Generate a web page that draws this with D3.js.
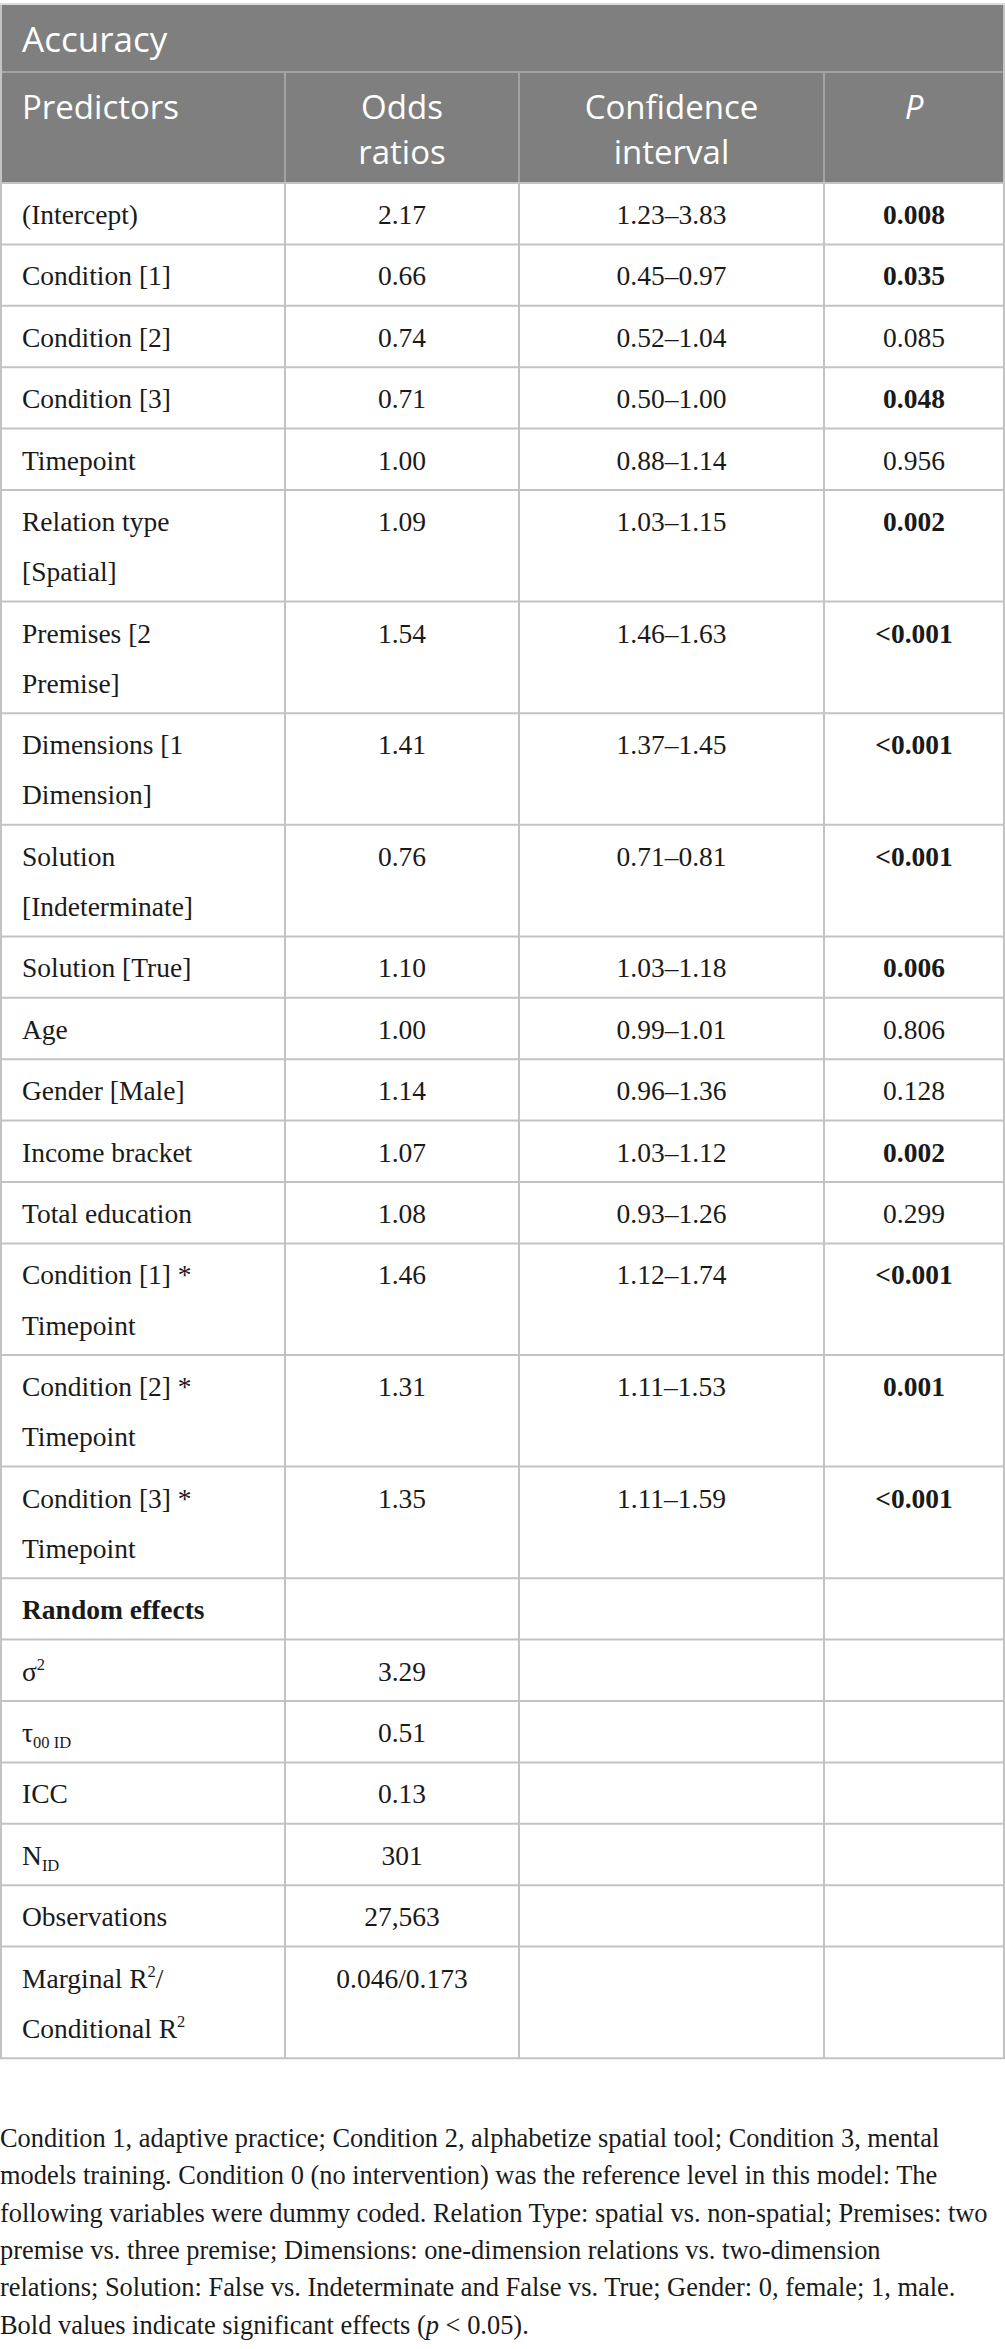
<!DOCTYPE html>
<html>
<head>
<meta charset="utf-8">
<script src="https://cdn.jsdelivr.net/npm/d3@7"></script>
<style>
  body { margin: 0; background: #fff; }
</style>
</head>
<body>
<svg id="chart"></svg>
<script>
// table content
const title = "Accuracy";
const headers = [["Predictors"], ["Odds", "ratios"], ["Confidence", "interval"], ["{/P}"]];
const predictors = [
  ["(Intercept)"], ["Condition [1]"], ["Condition [2]"], ["Condition [3]"], ["Timepoint"],
  ["Relation type", "[Spatial]"], ["Premises [2", "Premise]"], ["Dimensions [1", "Dimension]"],
  ["Solution", "[Indeterminate]"], ["Solution [True]"], ["Age"], ["Gender [Male]"],
  ["Income bracket"], ["Total education"],
  ["Condition [1] *", "Timepoint"], ["Condition [2] *", "Timepoint"], ["Condition [3] *", "Timepoint"]
];
const oddsRatios = ["2.17", "0.66", "0.74", "0.71", "1.00", "1.09", "1.54", "1.41", "0.76",
  "1.10", "1.00", "1.14", "1.07", "1.08", "1.46", "1.31", "1.35"];
const confIntervals = ["1.23–3.83", "0.45–0.97", "0.52–1.04", "0.50–1.00", "0.88–1.14",
  "1.03–1.15", "1.46–1.63", "1.37–1.45", "0.71–0.81", "1.03–1.18", "0.99–1.01",
  "0.96–1.36", "1.03–1.12", "0.93–1.26", "1.12–1.74", "1.11–1.53", "1.11–1.59"];
const pValues = ["0.008", "0.035", "0.085", "0.048", "0.956", "0.002", "<0.001", "<0.001",
  "<0.001", "0.006", "0.806", "0.128", "0.002", "0.299", "<0.001", "0.001", "<0.001"];
const randomLabels = [["Random effects"], ["σ{^2}"], ["τ{_00 ID}"], ["ICC"], ["N{_ID}"],
  ["Observations"], ["Marginal R{^2}/", "Conditional R{^2}"]];
const randomValues = ["", "3.29", "0.51", "0.13", "301", "27,563", "0.046/0.173"];
const footnote = [
  "Condition 1, adaptive practice; Condition 2, alphabetize spatial tool; Condition 3, mental",
  "models training. Condition 0 (no intervention) was the reference level in this model: The",
  "following variables were dummy coded. Relation Type: spatial vs. non-spatial; Premises: two",
  "premise vs. three premise; Dimensions: one-dimension relations vs. two-dimension",
  "relations; Solution: False vs. Indeterminate and False vs. True; Gender: 0, female; 1, male.",
  "Bold values indicate significant effects ({/p} < 0.05)."
];

const W = 1005, H = 2349;
const sans = "'Open Sans', sans-serif";
const serif = "'Liberation Serif', 'Times New Roman', serif";
const headFill = "#7e7f7e";
const gridBody = "#c3c3c3";
const gridHead = "#a2a3a2";

const colEdges = [1, 285, 519, 824, 1004];
const tableTop = 5, titleBottom = 72, headBottom = 183;
const rowBase = 61.4, lineStep = 50.2;

const svg = d3.select("#chart").attr("width", W).attr("height", H)
  .attr("viewBox", [0, 0, W, H].join(" "));

// rows assembled from the arrays
const rows = predictors.map((lab, i) => ({
  label: lab, cells: [oddsRatios[i], confIntervals[i], pValues[i]],
  bold: [false, false, parseFloat(pValues[i].replace("<", "")) < 0.05], boldLabel: false
})).concat(randomLabels.map((lab, i) => ({
  label: lab, cells: [randomValues[i], "", ""], bold: [false, false, false], boldLabel: i === 0
})));

let acc = headBottom;
rows.forEach(r => {
  r.y0 = acc;
  r.h = rowBase + (r.label.length - 1) * lineStep;
  acc += r.h;
});
const tableBottom = acc;

// markup: {^x} superscript, {_x} subscript, {/x} italic
function rich(sel, str, size) {
  const parts = str.split(/(\{[\^_\/][^}]*\})/).filter(s => s.length);
  let shift = 0;
  parts.forEach(p => {
    const m = p.match(/^\{([\^_\/])([^}]*)\}$/);
    const t = sel.append("tspan");
    if (m && m[1] !== "/") {
      const d = m[1] === "^" ? -size * 0.38 : size * 0.22;
      t.attr("dy", d - shift).attr("font-size", size * 0.6).text(m[2]);
      shift = d;
    } else {
      if (shift) t.attr("dy", -shift);
      shift = 0;
      if (m) t.attr("font-style", "italic").text(m[2]);
      else t.text(p);
    }
  });
}

// one <text> per cell, one tspan per line
function multiline(parent, lines, x, y, step, size, anchor) {
  const t = parent.append("text").attr("text-anchor", anchor);
  lines.forEach((ln, k) => {
    const l = t.append("tspan").attr("x", x).attr("y", y + k * step);
    rich(l, ln, size);
  });
  return t;
}

// header band
svg.append("rect").attr("x", colEdges[0]).attr("y", tableTop)
  .attr("width", colEdges[4] - colEdges[0]).attr("height", headBottom - tableTop)
  .attr("fill", headFill);
svg.append("line").attr("x1", 0).attr("x2", W).attr("y1", tableTop - 1).attr("y2", tableTop - 1)
  .attr("stroke", "#cfcfcf").attr("stroke-width", 1.5);
svg.append("line").attr("x1", 0).attr("x2", colEdges[4]).attr("y1", titleBottom).attr("y2", titleBottom)
  .attr("stroke", gridHead).attr("stroke-width", 2);
colEdges.slice(1, 4).forEach(x => {
  svg.append("line").attr("x1", x).attr("x2", x).attr("y1", titleBottom).attr("y2", headBottom)
    .attr("stroke", gridHead).attr("stroke-width", 2);
});

const headSize = 33;
const headG = svg.append("g").attr("fill", "#fff").attr("font-family", sans).attr("font-size", 35);
headG.append("text").attr("x", 22).attr("y", 52).text(title);

const colX = (j) => j === 0 ? colEdges[0] + 21 : (colEdges[j] + colEdges[j + 1]) / 2;

headers.forEach((lines, j) => {
  multiline(headG, lines, colX(j), 119, 45, headSize, j === 0 ? "start" : "middle")
    .attr("font-size", headSize);
});

// body grid
const grid = svg.append("g").attr("stroke", gridBody).attr("stroke-width", 2);
rows.forEach(r => {
  grid.append("line").attr("x1", 0).attr("x2", colEdges[4] + 1)
    .attr("y1", r.y0 + r.h).attr("y2", r.y0 + r.h);
});
grid.append("line").attr("x1", 0).attr("x2", colEdges[4] + 1).attr("y1", headBottom).attr("y2", headBottom);
colEdges.forEach(x => {
  grid.append("line").attr("x1", x).attr("x2", x)
    .attr("y1", x === colEdges[0] || x === colEdges[4] ? tableTop : headBottom).attr("y2", tableBottom);
});

// body text
const fs = 27.5;
const rowG = svg.append("g").attr("font-family", serif).attr("font-size", fs).attr("fill", "#1a1a1a");
rows.forEach(r => {
  multiline(rowG, r.label, colX(0), r.y0 + 41, lineStep, fs, "start")
    .attr("font-weight", r.boldLabel ? "bold" : null);
  r.cells.forEach((c, j) => {
    if (!c) return;
    rowG.append("text").attr("x", colX(j + 1)).attr("y", r.y0 + 41)
      .attr("text-anchor", "middle").attr("font-weight", r.bold[j] ? "bold" : null).text(c);
  });
});

// footnote: size chosen so the longest line just fits the page, as in the reference
let noteSize = 26;
const noteG = svg.append("g").attr("font-family", serif).attr("fill", "#1a1a1a");
const widest = d3.max(footnote, ln => {
  const probe = noteG.append("text").attr("font-size", noteSize).text(ln.replace(/[{}\/]/g, ""));
  const w = probe.node().getComputedTextLength();
  probe.remove();
  return w;
});
if (widest > 0) noteSize = Math.max(22, Math.min(30, noteSize * 988 / widest));
noteG.attr("font-size", noteSize);
footnote.forEach((ln, i) => {
  const t = noteG.append("text").attr("x", 0).attr("y", 2147 + i * 37.3);
  rich(t, ln, noteSize);
});
</script>
</body>
</html>
